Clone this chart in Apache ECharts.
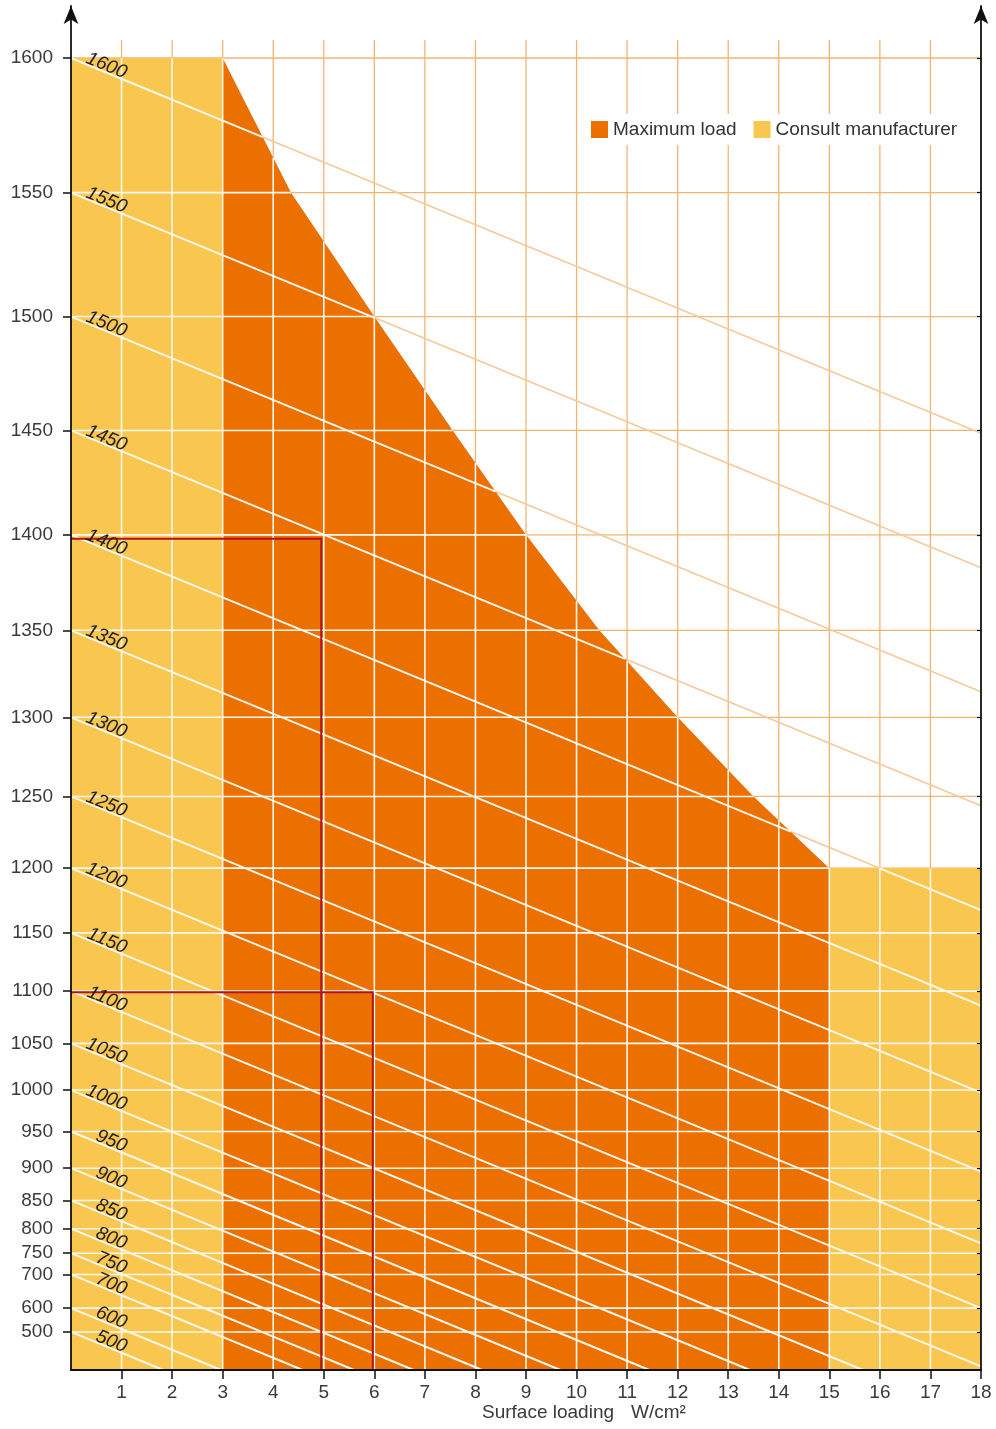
<!DOCTYPE html>
<html>
<head>
<meta charset="utf-8">
<script src="https://cdn.jsdelivr.net/npm/echarts@6/dist/echarts.min.js"></script>
<style>
html, body { margin: 0; padding: 0; background: #fff; }
#chart { width: 996px; height: 1429px; }
</style>
</head>
<body>
<div id="chart"></div>
<script>
// temperature ticks on the vertical axis, °C
const tempTicks = [1600, 1550, 1500, 1450, 1400, 1350, 1300, 1250, 1200, 1150, 1100, 1050, 1000, 950, 900, 850, 800, 750, 700, 600, 500];
// element temperature lines (labelled at the left edge)
const lineTemps = [1600, 1550, 1500, 1450, 1400, 1350, 1300, 1250, 1200, 1150, 1100, 1050, 1000, 950, 900, 850, 800, 750, 700, 600, 500];
// how far each line falls between 0 and 18 W/cm2, in (K/1000)^4 units (1600 line meets 1450 at 18)
const lineDrop = 3.52;
// surface loading ticks, W/cm2
const loadTicks = [1, 2, 3, 4, 5, 6, 7, 8, 9, 10, 11, 12, 13, 14, 15, 16, 17, 18];
// upper edge of the "Maximum load" area
const maxLoadX = [3, 4.35, 6, 7.55, 9, 10.45, 12, 13.5, 15];
const maxLoadT = [1600, 1550, 1500, 1450, 1400, 1350, 1300, 1250, 1200];
// "Consult manufacturer" blocks
const consultFrom = [0, 15];
const consultTo = [3, 18];
const consultTop = [1600, 1200];
// worked examples (red lines)
const exampleLoad = [4.95, 5.97];
const exampleTemp = [1398, 1099];

const ORANGE = '#EB7000';
const YELLOW = '#F9C750';
const GRID_ORANGE = '#F1B572';
const DIAG_ORANGE = '#F5C99C';
const WHITE_LINE = '#FFF8EE';
const FONT = '"Liberation Sans", Arial, sans-serif';

// vertical scale is linear in absolute temperature to the fourth power
const yv = t => Math.pow((t + 273) / 1000, 4);
const TOP = yv(1600);

// upper outline of the coloured areas
const envX = [consultFrom[0]].concat(maxLoadX, [consultTo[1]]);
const envY = [yv(consultTop[0])].concat(maxLoadT.map(yv), [yv(consultTop[1])]);

function envAt(x) {
    for (let k = 0; k < envX.length - 1; k++) {
        if (x >= envX[k] && x <= envX[k + 1]) {
            const f = (x - envX[k]) / (envX[k + 1] - envX[k]);
            return envY[k] + f * (envY[k + 1] - envY[k]);
        }
    }
    return 0;
}

function cross(v, w) { return v[0] * w[1] - v[1] * w[0]; }

// parts of segment a-b lying inside the coloured areas
function clipUnder(a, b) {
    const d = [b[0] - a[0], b[1] - a[1]];
    const ts = [0, 1];
    for (let k = 0; k < envX.length - 1; k++) {
        const e = [envX[k + 1] - envX[k], envY[k + 1] - envY[k]];
        const den = cross(d, e);
        if (Math.abs(den) < 1e-12) continue;
        const w = [envX[k] - a[0], envY[k] - a[1]];
        const t = cross(w, e) / den, u = cross(w, d) / den;
        if (t > 0 && t < 1 && u >= 0 && u <= 1) ts.push(t);
    }
    ts.sort((m, n) => m - n);
    const out = [];
    for (let i = 0; i < ts.length - 1; i++) {
        if (ts[i + 1] - ts[i] < 1e-9) continue;
        const tm = (ts[i] + ts[i + 1]) / 2;
        if (a[1] + d[1] * tm < envAt(a[0] + d[0] * tm) - 1e-9) {
            const s = [a[0] + d[0] * ts[i], a[1] + d[1] * ts[i]];
            const f = [a[0] + d[0] * ts[i + 1], a[1] + d[1] * ts[i + 1]];
            const last = out[out.length - 1];
            if (last && Math.abs(last[1][0] - s[0]) < 1e-9 && Math.abs(last[1][1] - s[1]) < 1e-9) last[1] = f;
            else out.push([s, f]);
        }
    }
    return out;
}

function diagEnds(t) {
    const y0 = yv(t);
    const y1 = y0 - lineDrop;
    const end = y1 >= 0 ? [18, y1] : [18 * y0 / lineDrop, 0];
    return [[0, y0], end];
}

function seg(api, a, b, stroke, width, extTop) {
    const p = api.coord(a), q = api.coord(b);
    return {
        type: 'line', silent: true,
        shape: { x1: p[0], y1: p[1], x2: q[0], y2: q[1] - (extTop || 0) },
        style: { stroke: stroke, lineWidth: width }
    };
}

// every grid / diagonal line as [start, end, kind]
function allLines() {
    const list = [];
    loadTicks.forEach(x => { if (x < 18) list.push([[x, 0], [x, TOP], 'v']); });
    tempTicks.forEach(t => list.push([[0, yv(t)], [18, yv(t)], 'h']));
    lineTemps.forEach(t => { const e = diagEnds(t); list.push([e[0], e[1], 'd']); });
    return list;
}

const chart = echarts.init(document.getElementById('chart'));

chart.setOption({
    animation: false,
    textStyle: { fontFamily: FONT },
    legend: {
        data: ['Maximum load', 'Consult manufacturer'],
        left: 585, top: 114,
        icon: 'rect', itemWidth: 17, itemHeight: 17, itemGap: 17,
        backgroundColor: '#fff',
        padding: [6, 6],
        textStyle: { fontSize: 19, color: '#333', fontFamily: FONT }
    },
    grid: [
        { left: 71, right: 15, top: 58, bottom: 59, outerBoundsMode: 'none' },
        { left: 71, right: 15, top: 6, bottom: 59, outerBoundsMode: 'none' }
    ],
    xAxis: [
        {
            type: 'value', gridIndex: 0, min: 0, max: 18, interval: 1, z: 12,
            axisLine: { onZero: false, lineStyle: { color: '#111', width: 1.8 } },
            axisTick: { show: true, length: 9, customValues: loadTicks, lineStyle: { color: '#111', width: 1.5 } },
            axisLabel: { customValues: loadTicks, margin: 13, fontSize: 19, color: '#3a3a3a', fontFamily: FONT },
            splitLine: { show: false }
        },
        { type: 'value', gridIndex: 1, min: 0, max: 18, show: false }
    ],
    yAxis: [
        {
            type: 'value', gridIndex: 0, min: 0, max: TOP, position: 'left', z: 12,
            axisLine: { show: false },
            axisTick: { show: true, length: 8, customValues: tempTicks.map(yv), lineStyle: { color: '#111', width: 1.5 } },
            axisLabel: {
                customValues: tempTicks.map(yv), margin: 18, fontSize: 19, color: '#3a3a3a', fontFamily: FONT,
                formatter: v => String(Math.round(Math.pow(v, 0.25) * 1000 - 273))
            },
            splitLine: { show: false }
        },
        {
            type: 'value', gridIndex: 0, min: 0, max: TOP, position: 'right', z: 12,
            axisLine: { show: false },
            axisTick: { show: true, inside: true, length: 4, customValues: tempTicks.map(yv), lineStyle: { color: '#111', width: 1.2 } },
            axisLabel: { show: false },
            splitLine: { show: false }
        },
        {
            type: 'value', gridIndex: 1, min: 0, max: 1, position: 'left', z: 12,
            axisLine: { onZero: false, symbol: ['none', 'arrow'], symbolSize: [11, 18], lineStyle: { color: '#111', width: 1.8 } },
            axisTick: { show: false }, axisLabel: { show: false }, splitLine: { show: false }
        },
        {
            type: 'value', gridIndex: 1, min: 0, max: 1, position: 'right', z: 12,
            axisLine: { onZero: false, symbol: ['none', 'arrow'], symbolSize: [11, 18], lineStyle: { color: '#111', width: 1.8 } },
            axisTick: { show: false }, axisLabel: { show: false }, splitLine: { show: false }
        }
    ],
    graphic: [
        { type: 'text', left: 482, top: 1403, style: { text: 'Surface loading', fontSize: 19, fill: '#3a3a3a', fontFamily: FONT } },
        { type: 'text', left: 631, top: 1403, style: { text: 'W/cm²', fontSize: 19, fill: '#3a3a3a', fontFamily: FONT } }
    ],
    series: [
        {
            // light orange grid and lines, seen where nothing is coloured
            type: 'custom', xAxisIndex: 0, yAxisIndex: 0, z: 0, silent: true,
            data: [[0, 0]],
            renderItem: (params, api) => ({
                type: 'group',
                children: allLines().map(l => l[2] === 'd'
                    ? seg(api, l[0], l[1], DIAG_ORANGE, 1.6, 0)
                    : seg(api, l[0], l[1], GRID_ORANGE, 1.3, l[2] === 'v' ? 18 : 0))
            })
        },
        {
            name: 'Consult manufacturer', type: 'custom', xAxisIndex: 0, yAxisIndex: 0, z: 1,
            color: YELLOW, itemStyle: { color: YELLOW },
            data: consultFrom.map((x, i) => [x, i]),
            renderItem: (params, api) => {
                const i = params.dataIndex;
                const top = yv(consultTop[i]);
                const pts = [[consultFrom[i], 0], [consultTo[i], 0], [consultTo[i], top], [consultFrom[i], top]].map(p => api.coord(p));
                return { type: 'polygon', shape: { points: pts }, style: { fill: YELLOW } };
            }
        },
        {
            name: 'Maximum load', type: 'custom', xAxisIndex: 0, yAxisIndex: 0, z: 1,
            color: ORANGE, itemStyle: { color: ORANGE },
            data: [[3, 0]],
            renderItem: (params, api) => {
                const edge = maxLoadX.map((x, i) => [x, yv(maxLoadT[i])]);
                const pts = [[3, 0]].concat(edge, [[15, 0]]).map(p => api.coord(p));
                return { type: 'polygon', shape: { points: pts }, style: { fill: ORANGE } };
            }
        },
        {
            // white grid and lines inside the coloured areas
            type: 'custom', xAxisIndex: 0, yAxisIndex: 0, z: 3, silent: true,
            data: [[0, 0]],
            renderItem: (params, api) => {
                const kids = [];
                allLines().forEach(l => {
                    clipUnder(l[0], l[1]).forEach(s => {
                        kids.push(seg(api, s[0], s[1], WHITE_LINE, l[2] === 'd' ? 1.9 : 1.6, 0));
                    });
                });
                return { type: 'group', children: kids };
            }
        },
        {
            // worked examples
            type: 'custom', xAxisIndex: 0, yAxisIndex: 0, z: 5, silent: true,
            data: exampleLoad.map((x, i) => [x, i]),
            renderItem: (params, api) => {
                const i = params.dataIndex;
                const pts = [[0, yv(exampleTemp[i])], [exampleLoad[i], yv(exampleTemp[i])], [exampleLoad[i], 0]].map(p => api.coord(p));
                return { type: 'polyline', shape: { points: pts }, style: { stroke: '#B01322', lineWidth: 2, fill: null } };
            }
        },
        {
            // line labels
            type: 'custom', xAxisIndex: 0, yAxisIndex: 0, z: 6, silent: true,
            data: lineTemps.map((t, i) => [0, i]),
            renderItem: (params, api) => {
                const t = lineTemps[params.dataIndex];
                const e = diagEnds(t);
                const p0 = api.coord(e[0]), p1 = api.coord(e[1]);
                const ang = Math.atan2(p1[1] - p0[1], p1[0] - p0[0]);
                const lx = 1.04;
                const at = api.coord([lx, yv(t) - lineDrop * lx / 18]);
                return {
                    type: 'text', x: at[0], y: at[1], rotation: -ang,
                    style: {
                        x: 0, y: 3, text: String(t), align: 'right', verticalAlign: 'bottom',
                        fontSize: 19, fontStyle: 'italic', fill: '#1e1e1e', fontFamily: FONT
                    }
                };
            }
        }
    ]
});
</script>
</body>
</html>
